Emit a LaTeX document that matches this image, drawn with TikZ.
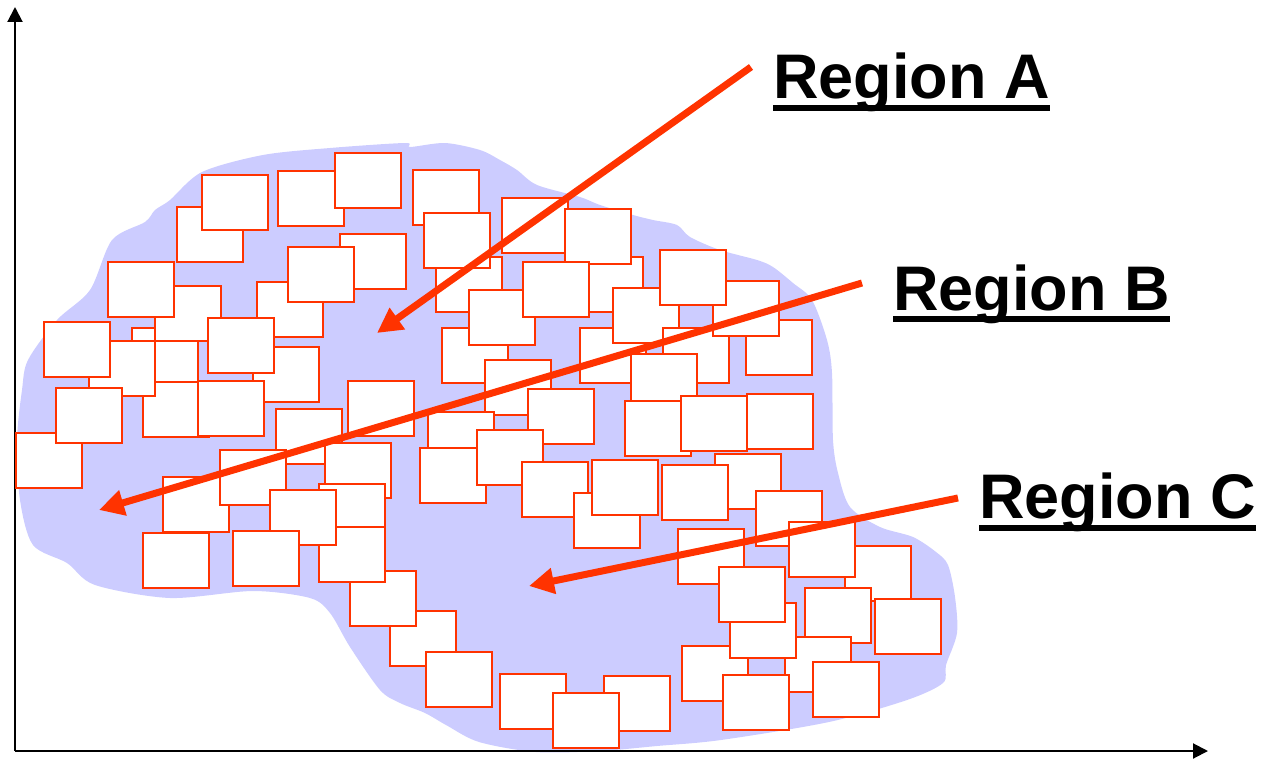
\documentclass[tikz,border=0pt]{standalone}
\usepackage{fontspec}
\setmainfont{Liberation Sans}
\usetikzlibrary{arrows.meta}
\definecolor{rojo}{HTML}{FF3300}
\definecolor{lila}{HTML}{CCCCFF}
\begin{document}
\begin{tikzpicture}[x=1pt, y=-1pt,
  caja/.style={draw=rojo, fill=white, line width=1.6pt, minimum width=66pt, minimum height=55pt, inner sep=0pt, outer sep=0pt, anchor=north west},
  flecha/.style={draw=rojo, line width=7pt, -{Triangle[length=25pt, width=25pt]}},
  eje/.style={draw=black, line width=2pt, -{Triangle[length=15pt, width=15pt]}},
  etiqueta/.style={inner sep=0pt, anchor=base west, font=\bfseries\fontsize{63}{70}\selectfont},
  subraya/.style={line width=5.5pt}]
\useasboundingbox (0,0) rectangle (1263,760);
% Fondo
\fill[lila] plot[smooth cycle, tension=0.5] coordinates {
  (202,172) (263,155) (330,148) (405,143) (410,147) (445,143) (480,150) (500,160)
  (517,170) (537,185) (580,197) (600,205) (633,215) (653,220) (677,225) (690,237)
  (720,250) (757,260) (773,267) (793,283) (812,300) (827,340) (832,373) (833,440)
  (838,473) (850,507) (880,527) (913,537) (936,552) (948,565) (955,597) (957,633)
  (946,665) (943,683) (907,700) (829,722) (721,740) (657,746) (600,751) (536,752)
  (479,742) (446,725) (425,713) (400,703) (380,690) (350,647) (330,613) (310,598)
  (253,591) (170,598) (95,585) (67,563) (33,545) (20,500) (17,440) (22,390)
  (28,360) (57,320) (90,290) (112,240) (145,222) (155,210) (170,200)};
% Ejes
\coordinate (origen) at (15,751);
\coordinate (ejeY) at (15,7);
\coordinate (ejeX) at (1208,751);
\draw[eje] (origen) -- (ejeY);
\draw[eje] (origen) -- (ejeX);
% ---
% Cajas (izquierda)
% ---
\node[caja] (c1) at (177,207) {};
\node[caja] (c2) at (202,175) {};
\node[caja] (c3) at (278,171) {};
\node[caja] (c4) at (335,153) {};
\node[caja] (c5) at (340,234) {};
\node[caja] (c6) at (257,282) {};
\node[caja] (c7) at (132,328) {};
\node[caja] (c8) at (155,286) {};
\node[caja] (c9) at (108,262) {};
\node[caja] (c10) at (288,247) {};
\node[caja] (c11) at (253,347) {};
\node[caja] (c12) at (208,318) {};
\node[caja] (c13) at (143,382) {};
\node[caja] (c14) at (89,341) {};
\node[caja] (c15) at (44,322) {};
\node[caja] (c16) at (16,433) {};
\node[caja] (c17) at (56,388) {};
\node[caja] (c18) at (198,381) {};
\node[caja] (c19) at (348,381) {};
\node[caja] (c20) at (276,409) {};
% ---
% Cajas (centro)
% ---
\node[caja] (c21) at (413,170) {};
\node[caja] (c22) at (436,257) {};
\node[caja] (c23) at (424,213) {};
\node[caja] (c24) at (577,257) {};
\node[caja] (c25) at (502,198) {};
\node[caja] (c26) at (565,209) {};
\node[caja] (c27) at (442,328) {};
\node[caja] (c28) at (469,290) {};
\node[caja] (c29) at (523,262) {};
\node[caja] (c30) at (485,360) {};
\node[caja] (c31) at (528,389) {};
\node[caja] (c32) at (428,412) {};
\node[caja] (c33) at (420,448) {};
\node[caja] (c34) at (477,430) {};
\node[caja] (c35) at (522,462) {};
\node[caja] (c36) at (574,493) {};
\node[caja] (c37) at (592,460) {};
% ---
% Cajas (derecha)
% ---
\node[caja] (c38) at (580,328) {};
\node[caja] (c39) at (613,288) {};
\node[caja] (c40) at (663,328) {};
\node[caja] (c41) at (746,320) {};
\node[caja] (c42) at (713,281) {};
\node[caja] (c43) at (660,250) {};
\node[caja] (c44) at (631,354) {};
\node[caja] (c45) at (625,401) {};
\node[caja] (c46) at (681,396) {};
\node[caja] (c47) at (747,394) {};
\node[caja] (c48) at (715,454) {};
\node[caja] (c49) at (662,465) {};
\node[caja] (c50) at (756,491) {};
\node[caja] (c51) at (845,546) {};
\node[caja] (c52) at (789,522) {};
\node[caja] (c53) at (805,588) {};
\node[caja] (c54) at (875,599) {};
\node[caja] (c55) at (785,637) {};
\node[caja] (c56) at (682,646) {};
\node[caja] (c57) at (730,603) {};
\node[caja] (c58) at (678,529) {};
\node[caja] (c59) at (719,567) {};
\node[caja] (c60) at (723,675) {};
\node[caja] (c61) at (813,662) {};
% ---
% Cajas (abajo)
% ---
\node[caja] (c62) at (390,611) {};
\node[caja] (c63) at (350,571) {};
\node[caja] (c64) at (426,652) {};
\node[caja] (c65) at (500,674) {};
\node[caja] (c66) at (604,676) {};
\node[caja] (c67) at (553,693) {};
\node[caja] (c68) at (163,477) {};
\node[caja] (c69) at (220,450) {};
\node[caja] (c70) at (325,443) {};
\node[caja] (c71) at (319,484) {};
\node[caja] (c72) at (319,527) {};
\node[caja] (c73) at (270,490) {};
\node[caja] (c74) at (143,533) {};
\node[caja] (c75) at (233,531) {};
% Etiquetas
\node[etiqueta] (regA) at (773,98) {Region A};
\node[etiqueta] (regB) at (893,310) {Region B};
\node[etiqueta] (regC) at (979,518) {Region C};
\draw[subraya] ([yshift=-10pt]regA.base west) -- ([yshift=-10pt]regA.base east);
\draw[subraya] ([yshift=-9pt]regB.base west) -- ([yshift=-9pt]regB.base east);
\draw[subraya] ([yshift=-10pt]regC.base west) -- ([yshift=-10pt]regC.base east);
% Flechas
\coordinate (inicioA) at (751,67);
\coordinate (puntaA) at (377,333);
\coordinate (inicioB) at (862,283);
\coordinate (puntaB) at (99,510);
\coordinate (inicioC) at (958,498);
\coordinate (puntaC) at (529,586);
\draw[flecha] (inicioA) -- (puntaA);
\draw[flecha] (inicioB) -- (puntaB);
\draw[flecha] (inicioC) -- (puntaC);
\end{tikzpicture}
\end{document}
